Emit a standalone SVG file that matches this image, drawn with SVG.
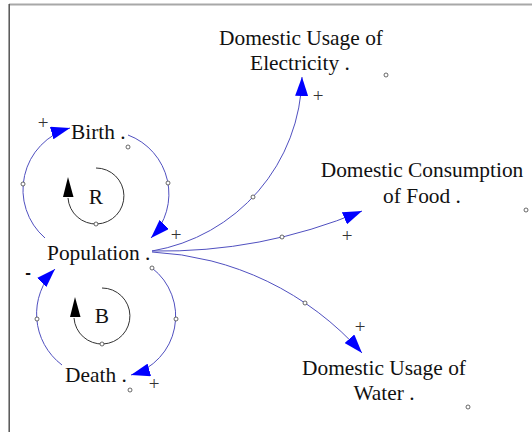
<svg xmlns="http://www.w3.org/2000/svg" width="532" height="432" viewBox="0 0 532 432">
<style>
.lbl{font-family:"Liberation Serif","Times New Roman",serif;font-size:21.4px;fill:#111;}
.ctr{text-anchor:middle;}
.lnk{fill:none;stroke:#5050c0;stroke-width:1;}
.loop{fill:none;stroke:#333;stroke-width:1;}
.dot{fill:#fff;stroke:#444;stroke-width:0.8;}
.pol{font-family:"Liberation Serif","Times New Roman",serif;font-size:19px;fill:#333;text-anchor:middle;}
.neg{font-family:"Liberation Sans",Arial,sans-serif;font-size:17px;font-weight:bold;fill:#111;text-anchor:middle;}
</style>
<defs>
<marker id="ah" markerWidth="20" markerHeight="13" refX="19" refY="6.5" orient="auto" markerUnits="userSpaceOnUse">
<path d="M0,0 L19,6.5 L0,13 z" fill="#0000ff"/>
</marker>
</defs>
<rect x="0" y="0" width="532" height="432" fill="#fff"/>
<line x1="9" y1="4.5" x2="532" y2="4.5" stroke="#a8a8a8" stroke-width="2"/>
<line x1="9.2" y1="4" x2="9.2" y2="432" stroke="#555" stroke-width="1.5"/>

<g id="connectors">
<path class="lnk" d="M128,135 A63,63 0 0 1 151,238" marker-end="url(#ah)"/>
<path class="lnk" d="M45,238 A64,64 0 0 1 70,128" marker-end="url(#ah)"/>
<path class="lnk" d="M152,268 A61,61 0 0 1 131,375" marker-end="url(#ah)"/>
<path class="lnk" d="M62,365 A64,64 0 0 1 55,269" marker-end="url(#ah)"/>
<path class="lnk" d="M152,251 A180,180 0 0 0 302,77" marker-end="url(#ah)"/>
<path class="lnk" d="M152,251 A521,521 0 0 0 362,211" marker-end="url(#ah)"/>
<path class="lnk" d="M152,252 A300,300 0 0 1 362,353" marker-end="url(#ah)"/>
<circle class="dot" cx="168" cy="183" r="2"/>
<circle class="dot" cx="23" cy="184" r="2"/>
<circle class="dot" cx="152" cy="268" r="2"/>
<circle class="dot" cx="176" cy="319" r="2"/>
<circle class="dot" cx="37" cy="319" r="2"/>
<circle class="dot" cx="253" cy="197" r="2"/>
<circle class="dot" cx="282" cy="237" r="2"/>
<circle class="dot" cx="305" cy="303" r="2"/>
<text class="pol" x="43" y="129">+</text>
<text class="pol" x="176" y="241">+</text>
<text class="neg" x="28" y="278">-</text>
<text class="pol" x="154" y="390">+</text>
<text class="pol" x="318" y="102">+</text>
<text class="pol" x="347" y="242">+</text>
<text class="pol" x="360" y="333">+</text>
</g>

<g id="loop-R">
<path class="loop" d="M96,168 A28,28 0 1 1 68,198"/>
<polygon points="68,177 63,197 73.5,197" fill="#000"/>
<circle class="dot" cx="96" cy="224" r="2"/>
<text class="lbl ctr" x="96" y="204">R</text>
</g>

<g id="loop-B">
<path class="loop" d="M102,288 A28,28 0 1 1 74,318"/>
<polygon points="75,297 70,317 80.5,317" fill="#000"/>
<circle class="dot" cx="102" cy="344" r="2"/>
<text class="lbl ctr" x="102" y="323">B</text>
</g>

<g id="birth">
<text class="lbl" x="71" y="139">Birth .</text>
<circle class="dot" cx="128" cy="147" r="2"/>
</g>

<g id="population">
<text class="lbl" x="47" y="260">Population .</text>
</g>

<g id="death">
<text class="lbl" x="65" y="382">Death .</text>
<circle class="dot" cx="130" cy="390" r="2"/>
</g>

<g id="electricity">
<text class="lbl ctr" x="301" y="45">Domestic Usage of</text>
<text class="lbl ctr" x="300" y="70">Electricity .</text>
<circle class="dot" cx="386" cy="75" r="2"/>
</g>

<g id="food">
<text class="lbl ctr" x="422" y="177">Domestic Consumption</text>
<text class="lbl ctr" x="422" y="203">of Food .</text>
<circle class="dot" cx="526" cy="210" r="2"/>
</g>

<g id="water">
<text class="lbl ctr" x="384" y="375">Domestic Usage of</text>
<text class="lbl ctr" x="384" y="400">Water .</text>
<circle class="dot" cx="468" cy="407" r="2"/>
</g>
</svg>
